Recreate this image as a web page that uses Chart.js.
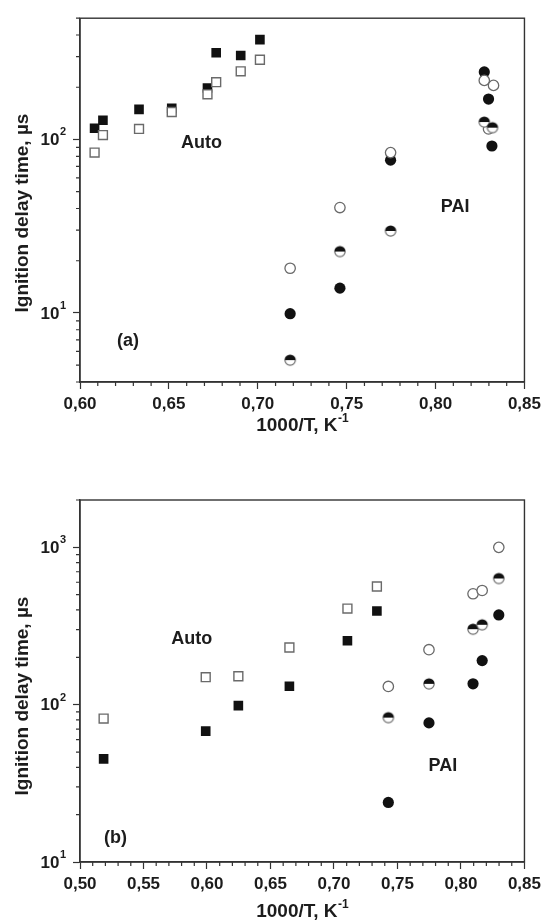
<!DOCTYPE html>
<html>
<head>
<meta charset="utf-8">
<script src="https://cdn.jsdelivr.net/npm/chart.js@4.4.0/dist/chart.umd.min.js"></script>
<style>
html, body { margin: 0; padding: 0; background: #fff; }
#boxA { position: absolute; left: 0; top: 0; }
#boxB { position: absolute; left: 0; top: 460px; }
</style>
</head>
<body>
<div id="boxA"><canvas id="chartA" width="546" height="460"></canvas></div>
<div id="boxB"><canvas id="chartB" width="546" height="462"></canvas></div>
<script>
// ---- panel (a) ----
var aAutoX      = [0.6082, 0.6129, 0.6332, 0.6516, 0.6717, 0.6766, 0.6904, 0.7012];
var aAutoFilled = [116, 129, 149, 151, 198, 316, 305, 376];
var aAutoOpen   = [84, 106, 115, 144, 182, 214, 247, 288];

var aOpenX  = [0.7182, 0.7462, 0.7747, 0.8274, 0.8326, 0.8298];
var aOpenY  = [18.1, 40.5, 84, 219, 205, 115];
var aHalfX  = [0.7182, 0.7462, 0.7747, 0.8274, 0.8320];
var aHalfY  = [5.35, 22.6, 29.7, 126, 117];
var aSolidX = [0.7182, 0.7462, 0.7747, 0.8274, 0.8298, 0.8317];
var aSolidY = [9.9, 13.9, 76, 245, 171, 91.7];

// ---- panel (b) ----
var bAutoX      = [0.5186, 0.5990, 0.6247, 0.6649, 0.7106, 0.7338];
var bAutoOpen   = [81.6, 149.5, 151.6, 231, 408, 564];
var bAutoFilled = [45.2, 67.9, 98.6, 131, 255, 394];

var bPaiX     = [0.7428, 0.7748, 0.8095, 0.8167, 0.8298];
var bPaiOpen  = [130.6, 223.6, 507, 532, 1000];
var bPaiHalf  = [82.8, 135.7, 302, 322, 634];
var bPaiSolid = [23.9, 76.6, 135.7, 190.6, 372];

var xTitle = '1000/T, K';
var xTitleSup = '-1';
var yTitle = 'Ignition delay time, \u00b5s';

var FONT = '"Liberation Sans", Arial, sans-serif';
var INK = '#1c1c1c';
var GREY = '#6a6a6a';

function pts(xs, ys) {
  var out = [];
  for (var i = 0; i < xs.length; i++) out.push({x: xs[i], y: ys[i]});
  return out;
}

// half filled circle (top black, bottom white)
function halfCircle() {
  var c = document.createElement('canvas');
  c.width = 14; c.height = 14;
  var g = c.getContext('2d');
  var r = 5.2;
  g.beginPath(); g.arc(7, 7, r, 0, Math.PI); g.closePath();
  g.fillStyle = '#fff'; g.fill();
  g.lineWidth = 1.2; g.strokeStyle = GREY;
  g.beginPath(); g.arc(7, 7, r, 0, Math.PI); g.stroke();
  g.beginPath(); g.arc(7, 7, r + 0.4, Math.PI, 2 * Math.PI); g.closePath();
  g.fillStyle = '#111'; g.fill();
  return c;
}
var halfStyle = halfCircle();

function filledSquares(data) {
  return {data: data, pointStyle: 'rect', pointRadius: 6.8, backgroundColor: '#111', borderColor: '#111', borderWidth: 0, order: 3};
}
function openSquares(data) {
  return {data: data, pointStyle: 'rect', pointRadius: 6.3, backgroundColor: '#fff', borderColor: GREY, borderWidth: 1.4, order: 2};
}
function solidCircles(data) {
  return {data: data, pointStyle: 'circle', pointRadius: 5.6, backgroundColor: '#111', borderColor: '#111', borderWidth: 0, order: 3};
}
function openCircles(data) {
  return {data: data, pointStyle: 'circle', pointRadius: 5.2, backgroundColor: '#fff', borderColor: GREY, borderWidth: 1.3, order: 2};
}
function halfCircles(data) {
  return {data: data, pointStyle: halfStyle, pointRadius: 6, order: 1};
}

// minor ticks, frame, y labels, titles and text notes
var decorPlugin = {
  id: 'decor',
  afterDraw: function(chart) {
    var o = chart.options.plugins.decor;
    var ctx = chart.ctx, a = chart.chartArea;
    var xs = chart.scales.x, ys = chart.scales.y;
    ctx.save();
    ctx.strokeStyle = '#333';
    ctx.lineWidth = 1.4;
    ctx.strokeRect(a.left, a.top, a.right - a.left, a.bottom - a.top);

    ctx.lineWidth = 1.2;
    ctx.beginPath();
    var i0 = Math.round(xs.min * 100), i1 = Math.round(xs.max * 100);
    for (var i = i0; i <= i1; i++) {
      if (i % 5 === 0) continue;
      var px = xs.getPixelForValue(i / 100);
      ctx.moveTo(px, a.bottom); ctx.lineTo(px, a.bottom + 4);
    }
    for (var d = 0; d <= 4; d++) {
      var base = Math.pow(10, d);
      for (var m = 2; m <= 9; m++) {
        var v = m * base;
        if (v < ys.min - 1e-9 || v > ys.max + 1e-9) continue;
        var py = ys.getPixelForValue(v);
        ctx.moveTo(a.left, py); ctx.lineTo(a.left - 4, py);
      }
    }
    ctx.stroke();

    ctx.fillStyle = INK;
    ctx.textBaseline = 'middle';

    // y tick labels: 10 with a raised exponent
    o.yLabels.forEach(function(v) {
      var py = ys.getPixelForValue(v);
      var ex = String(Math.round(Math.log10(v)));
      ctx.font = 'bold 11px ' + FONT;
      var we = ctx.measureText(ex).width;
      ctx.textAlign = 'right';
      ctx.fillText(ex, 66, py - 7);
      ctx.font = 'bold 17px ' + FONT;
      ctx.fillText('10', 66 - we - 0.5, py + 1);
    });

    ctx.textAlign = 'center';
    ctx.font = 'bold 18px ' + FONT;
    o.notes.forEach(function(n) {
      ctx.fillText(n.text, xs.getPixelForValue(n.x), ys.getPixelForValue(n.y));
    });

    // x title with superscript
    ctx.font = 'bold 19px ' + FONT;
    var w1 = ctx.measureText(xTitle).width;
    ctx.font = 'bold 12px ' + FONT;
    var w2 = ctx.measureText(xTitleSup).width;
    var cx = (a.left + a.right) / 2 - (w1 + w2) / 2;
    ctx.textAlign = 'left';
    ctx.font = 'bold 19px ' + FONT;
    ctx.fillText(xTitle, cx, o.xTitleY);
    ctx.font = 'bold 12px ' + FONT;
    ctx.fillText(xTitleSup, cx + w1 + 0.5, o.xTitleY - 7);

    // y title
    ctx.translate(22.5, o.yTitleY);
    ctx.rotate(-Math.PI / 2);
    ctx.textAlign = 'center';
    ctx.font = 'bold 19px ' + FONT;
    ctx.fillText(yTitle, 0, 0);
    ctx.restore();
  }
};

function makeChart(id, datasets, xMin, xMax, yMin, yMax, yLabels, padTop, xHeight, notes, xTitleY, yTitleY) {
  var ctx = document.getElementById(id).getContext('2d');
  return new Chart(ctx, {
    type: 'scatter',
    data: {datasets: datasets},
    options: {
      responsive: false,
      animation: false,
      events: [],
      layout: {padding: {top: padTop, right: 20, bottom: 0, left: 0}},
      plugins: {
        legend: {display: false},
        tooltip: {enabled: false},
        decor: {notes: notes, xTitleY: xTitleY, yTitleY: yTitleY, yLabels: yLabels}
      },
      scales: {
        x: {
          type: 'linear', min: xMin, max: xMax,
          afterFit: function(s) { s.height = xHeight; },
          border: {display: true, color: '#333', width: 1.4},
          grid: {drawOnChartArea: false, drawTicks: true, tickLength: 7, tickColor: '#333', tickWidth: 1.2},
          ticks: {
            stepSize: 0.05, padding: 5, color: INK, maxRotation: 0,
            font: {family: FONT, size: 17, weight: 'bold'},
            callback: function(v) { return v.toFixed(2).replace('.', ','); }
          }
        },
        y: {
          type: 'logarithmic', min: yMin, max: yMax,
          afterFit: function(s) { s.width = 80; },
          afterBuildTicks: function(s) {
            s.ticks = yLabels.map(function(v) { return {value: v}; });
          },
          border: {display: true, color: '#333', width: 1.4},
          grid: {drawOnChartArea: false, drawTicks: true, tickLength: 7, tickColor: '#333', tickWidth: 1.2},
          ticks: {
            padding: 8, color: 'rgba(0,0,0,0)',
            font: {family: FONT, size: 17, weight: 'bold'},
            callback: function(v) { return '10'; }
          }
        }
      }
    },
    plugins: [decorPlugin]
  });
}

makeChart('chartA', [
    halfCircles(pts(aHalfX, aHalfY)),
    openSquares(pts(aAutoX, aAutoOpen)),
    openCircles(pts(aOpenX, aOpenY)),
    filledSquares(pts(aAutoX, aAutoFilled)),
    solidCircles(pts(aSolidX, aSolidY))
  ], 0.60, 0.85, 4, 500, [10, 100], 15, 78,
  [{text: 'Auto', x: 0.6684, y: 94.8}, {text: 'PAI', x: 0.811, y: 41}, {text: '(a)', x: 0.627, y: 6.93}],
  426, 213);

makeChart('chartB', [
    halfCircles(pts(bPaiX, bPaiHalf)),
    openSquares(pts(bAutoX, bAutoOpen)),
    openCircles(pts(bPaiX, bPaiOpen)),
    filledSquares(pts(bAutoX, bAutoFilled)),
    solidCircles(pts(bPaiX, bPaiSolid))
  ], 0.50, 0.85, 10, 2000, [10, 100, 1000], 40, 60,
  [{text: 'Auto', x: 0.588, y: 261}, {text: 'PAI', x: 0.7858, y: 40.8}, {text: '(b)', x: 0.528, y: 14.2}],
  452, 236);
</script>
</body>
</html>
